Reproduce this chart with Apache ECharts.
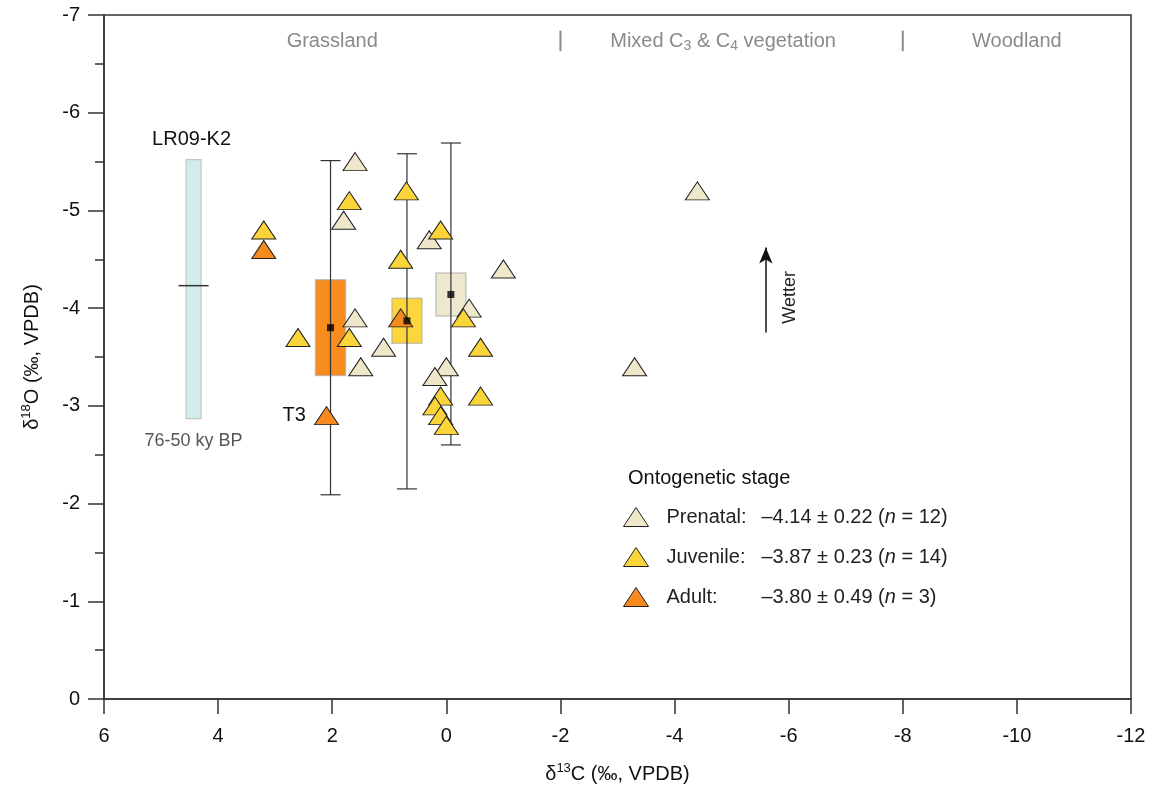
<!DOCTYPE html>
<html>
<head>
<meta charset="utf-8">
<script src="https://cdn.jsdelivr.net/npm/echarts@6/dist/echarts.min.js"></script>
<style>
  html, body { margin: 0; padding: 0; background: #fff; }
  #chart { width: 1156px; height: 791px; }
</style>
</head>
<body>
<div id="chart"></div>
<script>
// Enamel δ13C / δ18O by ontogenetic stage
const stages = ['Prenatal', 'Juvenile', 'Adult'];

const prenatalC13 = [1.6, 1.8, 0.3, -1.0, -0.4, 1.6, 1.1, 1.5, 0.0, 0.2, -3.3, -4.4];
const prenatalO18 = [-5.5, -4.9, -4.7, -4.4, -4.0, -3.9, -3.6, -3.4, -3.4, -3.3, -3.4, -5.2];

const juvenileC13 = [3.2, 1.7, 0.7, 0.1, 0.8, -0.3, 2.6, 1.7, -0.6, -0.6, 0.1, 0.2, 0.1, 0.0];
const juvenileO18 = [-4.8, -5.1, -5.2, -4.8, -4.5, -3.9, -3.7, -3.7, -3.6, -3.1, -3.1, -3.0, -2.9, -2.8];

const adultC13 = [3.2, 0.8, 2.1];
const adultO18 = [-4.6, -3.9, -2.9];
const adultLabels = ['', '', 'T3'];

// Group summaries: mean δ18O ± error (box), range (whiskers), mean δ13C (box centre)
const meanO18 = [-4.14, -3.87, -3.80];
const errO18 = [0.22, 0.23, 0.49];
const countN = [12, 14, 3];
const meanC13 = [-0.08, 0.69, 2.03];
const rangeHighO18 = [-5.69, -5.58, -5.51];
const rangeLowO18 = [-2.60, -2.15, -2.09];

// LR09-K2 reference range (76-50 ky BP)
const refName = 'LR09-K2';
const refPeriod = '76-50 ky BP';
const refC13 = [4.43];
const refO18Range = [-5.52, -2.87];
const refO18Mean = [-4.23];

// Vegetation zones along the δ13C axis
const zoneNames = ['Grassland', 'Mixed C{sub|3} & C{sub|4} vegetation', 'Woodland'];
const zoneCentres = [2, -4.85, -10];
const zoneBounds = [-2, -8];

const stageColors = ['#eee7ca', '#fbd43a', '#f78a1f'];
const boxColors = ['#eee8cf', '#fcd63c', '#f98c1f'];

const FONT = '"Liberation Sans", Arial, Helvetica, sans-serif';
const chart = echarts.init(document.getElementById('chart'), null, { renderer: 'canvas' });

const pair = (xs, ys) => xs.map((x, i) => [x, ys[i]]);

function stageSeries(i, xs, ys, labels) {
  return {
    name: stages[i],
    type: 'scatter',
    symbol: 'triangle',
    symbolSize: [24, 18],
    z: 3,
    itemStyle: { color: stageColors[i], borderColor: '#222', borderWidth: 1, opacity: 1 },
    emphasis: { disabled: true },
    data: pair(xs, ys).map((p, k) => ({
      value: p,
      label: labels && labels[k] ? {
        show: true, formatter: labels[k], position: 'left', distance: 8,
        fontSize: 20, fontFamily: FONT, color: '#111'
      } : undefined
    }))
  };
}

const option = {
  animation: false,
  backgroundColor: '#fff',
  grid: { left: 104, right: 25, top: 15, bottom: 92, show: true, borderColor: '#333', borderWidth: 1.5 },
  xAxis: {
    type: 'value', min: -12, max: 6, interval: 2, inverse: true,
    axisLine: { show: true, onZero: false, lineStyle: { color: '#333', width: 1.5 } },
    axisTick: { show: true, length: 15, lineStyle: { color: '#333', width: 1.5 } },
    splitLine: { show: false },
    axisLabel: { fontSize: 20, fontFamily: FONT, color: '#111', margin: 27 },
    name: '{d|δ}{s|13}{d|C (‰, VPDB)}',
    nameLocation: 'middle', nameGap: 63,
    nameTextStyle: {
      rich: {
        d: { fontSize: 20, fontFamily: FONT, color: '#111', lineHeight: 24 },
        s: { fontSize: 13, fontFamily: FONT, color: '#111', padding: [0, 0, 12, 0] }
      }
    }
  },
  yAxis: {
    type: 'value', min: -7, max: 0, interval: 1, inverse: true,
    axisLine: { show: true, onZero: false, lineStyle: { color: '#333', width: 1.5 } },
    axisTick: { show: true, length: 16, lineStyle: { color: '#333', width: 1.5 } },
    minorTick: { show: true, splitNumber: 2, length: 9, lineStyle: { color: '#333', width: 1.5 } },
    splitLine: { show: false },
    axisLabel: { fontSize: 20, fontFamily: FONT, color: '#111', margin: 24 },
    name: '{d|δ}{s|18}{d|O (‰, VPDB)}',
    nameLocation: 'middle', nameGap: 59, nameRotate: 90,
    nameTextStyle: {
      rich: {
        d: { fontSize: 20, fontFamily: FONT, color: '#111', lineHeight: 24 },
        s: { fontSize: 13, fontFamily: FONT, color: '#111', padding: [0, 0, 12, 0] }
      }
    }
  },
  legend: {
    orient: 'vertical', left: 623, top: 507, padding: 0,
    itemWidth: 25, itemHeight: 19, itemGap: 20,
    selectedMode: false,
    data: stages,
    itemStyle: { borderColor: '#222', borderWidth: 1 },
    formatter: name => {
      const i = stages.indexOf(name);
      return '{n|' + name + ':}{v|–' + Math.abs(meanO18[i]).toFixed(2) + ' ± ' +
        errO18[i].toFixed(2) + ' (}{i|n}{v| = ' + countN[i] + ')}';
    },
    textStyle: {
      color: '#222', fontSize: 20, fontFamily: FONT,
      rich: {
        n: { width: 95, padding: [0, 0, 0, 13], fontSize: 20, fontFamily: FONT, color: '#222', lineHeight: 20 },
        v: { fontSize: 20, fontFamily: FONT, color: '#222', lineHeight: 20 },
        i: { fontSize: 20, fontFamily: FONT, color: '#222', fontStyle: 'italic', lineHeight: 20 }
      }
    }
  },
  series: [
    // LR09-K2 range bar with its mean
    {
      type: 'custom', z: 1, silent: true,
      data: refC13.map((c, i) => [c, refO18Range[0], refO18Range[1], refO18Mean[i]]),
      renderItem: (params, api) => {
        const top = api.coord([api.value(0), api.value(1)]);
        const bot = api.coord([api.value(0), api.value(2)]);
        const mean = api.coord([api.value(0), api.value(3)]);
        const w = 15;
        return {
          type: 'group', children: [
            { type: 'rect', shape: { x: top[0] - w / 2, y: top[1], width: w, height: bot[1] - top[1] },
              style: { fill: '#d0eceb', stroke: '#c4c4c4', lineWidth: 1.2 } },
            { type: 'line', shape: { x1: mean[0] - 15, y1: mean[1], x2: mean[0] + 15, y2: mean[1] },
              style: { stroke: '#333', lineWidth: 1.5 } },
            { type: 'text', x: top[0] - 2, y: top[1] - 10,
              style: { text: refName, fontSize: 20, fontFamily: FONT, fill: '#111', align: 'center', verticalAlign: 'bottom' } },
            { type: 'text', x: bot[0], y: bot[1] + 22,
              style: { text: refPeriod, fontSize: 18, fontFamily: FONT, fill: '#555', align: 'center', verticalAlign: 'middle' } }
          ]
        };
      }
    },
    // mean ± error boxes
    {
      type: 'custom', z: 1, silent: true,
      data: stages.map((s, i) => [meanC13[i], meanO18[i] - errO18[i], meanO18[i] + errO18[i], i]),
      renderItem: (params, api) => {
        const a = api.coord([api.value(0), api.value(1)]);
        const b = api.coord([api.value(0), api.value(2)]);
        const hw = 15;
        return {
          type: 'rect',
          shape: { x: a[0] - hw, y: Math.min(a[1], b[1]), width: hw * 2, height: Math.abs(b[1] - a[1]) },
          style: { fill: boxColors[api.value(3)], stroke: 'rgba(160,160,160,0.55)', lineWidth: 1.5 }
        };
      }
    },
    // range whiskers
    {
      type: 'custom', z: 2, silent: true,
      data: stages.map((s, i) => [meanC13[i], rangeHighO18[i], rangeLowO18[i]]),
      renderItem: (params, api) => {
        const a = api.coord([api.value(0), api.value(1)]);
        const b = api.coord([api.value(0), api.value(2)]);
        const cap = 10;
        const st = { stroke: '#333', lineWidth: 1.2 };
        return {
          type: 'group', children: [
            { type: 'line', shape: { x1: a[0], y1: a[1], x2: b[0], y2: b[1] }, style: st },
            { type: 'line', shape: { x1: a[0] - cap, y1: a[1], x2: a[0] + cap, y2: a[1] }, style: st },
            { type: 'line', shape: { x1: b[0] - cap, y1: b[1], x2: b[0] + cap, y2: b[1] }, style: st }
          ]
        };
      }
    },
    stageSeries(0, prenatalC13, prenatalO18),
    stageSeries(1, juvenileC13, juvenileO18),
    stageSeries(2, adultC13, adultO18, adultLabels),
    // group means
    {
      type: 'scatter', z: 4, silent: true,
      symbol: 'rect', symbolSize: 7,
      itemStyle: { color: '#000' },
      data: pair(meanC13, meanO18),
      markLine: {
        silent: true, animation: false,
        symbol: ['none', 'arrow'], symbolSize: [10, 16],
        lineStyle: { color: '#111', width: 1.5, type: 'solid' },
        label: { show: false },
        data: [[{ coord: [-5.6, -3.75] }, { coord: [-5.6, -4.62] }]]
      }
    }
  ]
};

chart.setOption(option);

// Annotations placed from data coordinates
function placeAnnotations() {
  const px = (x, y) => chart.convertToPixel({ gridIndex: 0 }, [x, y]);
  const g = [];
  zoneNames.forEach((t, i) => {
    const p = px(zoneCentres[i], -6.73);
    g.push({
      type: 'text', x: p[0], y: p[1], silent: true,
      style: {
        text: t, fontSize: 20, fontFamily: FONT, fill: '#8a8a8a', align: 'center', verticalAlign: 'middle',
        rich: { sub: { fontSize: 14, fontFamily: FONT, fill: '#8a8a8a', padding: [9, 0, 0, 0] } }
      }
    });
  });
  zoneBounds.forEach(b => {
    const a = px(b, -6.84), c = px(b, -6.63);
    g.push({ type: 'line', silent: true, shape: { x1: a[0], y1: a[1], x2: c[0], y2: c[1] },
      style: { stroke: '#8a8a8a', lineWidth: 2 } });
  });
  const w = px(-6.02, -4.11);
  g.push({
    type: 'text', x: w[0], y: w[1], rotation: Math.PI / 2, silent: true,
    style: { text: 'Wetter', fontSize: 18, fontFamily: FONT, fill: '#222', align: 'center', verticalAlign: 'middle' }
  });
  g.push({
    type: 'text', x: 628, y: 478, silent: true,
    style: { text: 'Ontogenetic stage', fontSize: 20, fontFamily: FONT, fill: '#111', align: 'left', verticalAlign: 'middle' }
  });
  chart.setOption({ graphic: g });
}
placeAnnotations();
</script>
</body>
</html>
